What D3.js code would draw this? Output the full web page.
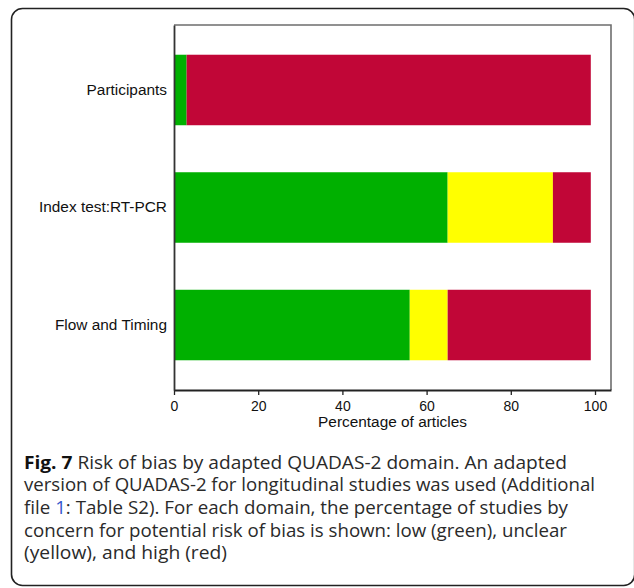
<!DOCTYPE html>
<html>
<head>
<meta charset="utf-8">
<script src="https://cdn.jsdelivr.net/npm/d3@7"></script>
<style>
  html, body { margin: 0; padding: 0; background: #fff; }
  svg { display: block; }
  .arial { font-family: "Liberation Sans", Arial, sans-serif; }
</style>
</head>
<body>
<svg id="chart" width="634" height="588"></svg>
<script>
// ---- data ----
const categories = ["Participants", "Index test:RT-PCR", "Flow and Timing"];
const lowValues     = [3, 65, 56];   // green
const unclearValues = [0, 25, 9];    // yellow
const highValues    = [96, 9, 34];   // red
const seriesNames   = ["low", "unclear", "high"];
const seriesColors  = ["#00B000", "#FFFF00", "#C10637"];
const tickValues    = [0, 20, 40, 60, 80, 100];
const xTitle = "Percentage of articles";
const captionLines = [
  [{t: "Fig. 7", b: true}, {t: " Risk of bias by adapted QUADAS-2 domain. An adapted"}],
  [{t: "version of QUADAS-2 for longitudinal studies was used (Additional"}],
  [{t: "file "}, {t: "1", link: true}, {t: ": Table S2). For each domain, the percentage of studies by"}],
  [{t: "concern for potential risk of bias is shown: low (green), unclear"}],
  [{t: "(yellow), and high (red)"}]
];
const captionWidths = [543, 571, 544, 543, 203];

// ---- drawing ----
const svg = d3.select("#chart");

// outer rounded frame
svg.append("rect")
  .attr("x", 11.5).attr("y", 8.5)
  .attr("width", 623.2).attr("height", 577)
  .attr("rx", 11).attr("ry", 11)
  .attr("fill", "none").attr("stroke", "#222").attr("stroke-width", 1.6);

const plot = {left: 174, right: 611, top: 25, bottom: 390};

const x = d3.scaleLinear().domain([0, 103.8]).range([plot.left, plot.right]);
const y = d3.scaleBand().domain(categories)
  .range([plot.top, plot.bottom]).paddingInner(0.4).paddingOuter(0.253);

const rows = categories.map((c, i) => ({cat: c, low: lowValues[i], unclear: unclearValues[i], high: highValues[i]}));
const stacked = d3.stack().keys(seriesNames)(rows);
const color = d3.scaleOrdinal().domain(seriesNames).range(seriesColors);

// plot frame (top & right gray)
svg.append("path")
  .attr("d", `M${plot.left},${plot.top}H${plot.right}V${plot.bottom}`)
  .attr("fill", "none").attr("stroke", "#6e6e6e").attr("stroke-width", 1.6);

svg.append("g").selectAll("g").data(stacked).join("g")
  .attr("fill", d => color(d.key))
  .selectAll("rect").data(d => d).join("rect")
  .attr("x", d => x(d[0]))
  .attr("width", d => Math.max(0, x(d[1]) - x(d[0])))
  .attr("y", d => y(d.data.cat))
  .attr("height", y.bandwidth());

// bottom axis
const xAxis = svg.append("g")
  .attr("transform", `translate(0,${plot.bottom})`)
  .call(d3.axisBottom(x).tickValues(tickValues).tickSize(5).tickSizeOuter(0));
xAxis.attr("font-family", null).attr("font-size", null);
xAxis.select(".domain").attr("stroke", "#222").attr("stroke-width", 1.8);
xAxis.selectAll(".tick line").attr("stroke", "#222").attr("stroke-width", 1.3);
xAxis.selectAll(".tick text")
  .attr("y", 20.5).attr("dy", null)
  .attr("class", "arial")
  .style("font-size", "14px").attr("fill", "#111");

// left axis
const yAxis = svg.append("g")
  .attr("transform", `translate(${plot.left},0)`)
  .call(d3.axisLeft(y).tickSize(0).tickPadding(7));
yAxis.attr("font-family", null).attr("font-size", null);
yAxis.select(".domain").attr("stroke", "#333").attr("stroke-width", 1.8);
yAxis.selectAll(".tick text")
  .attr("class", "arial")
  .style("font-size", "15.4px").attr("fill", "#111");

// x title
svg.append("text")
  .attr("class", "arial")
  .attr("x", (plot.left + plot.right) / 2).attr("y", 427)
  .attr("text-anchor", "middle")
  .style("font-size", "15.4px").attr("fill", "#111")
  .text(xTitle);

// caption
const cap = svg.append("g")
  .style("font-family", "'Open Sans', 'Noto Sans', sans-serif")
  .style("font-size", "17.5px").attr("fill", "#2a2a2a");
captionLines.forEach((line, i) => {
  const t = cap.append("text")
    .attr("x", 24).attr("y", 468.5 + i * 22.7)
    .attr("textLength", captionWidths[i])
    .attr("lengthAdjust", "spacingAndGlyphs");
  line.forEach(seg => {
    const s = t.append("tspan").text(seg.t);
    if (seg.b) s.attr("font-weight", "bold").attr("fill", "#111");
    if (seg.link) s.attr("fill", "#3355cc");
  });
});
</script>
</body>
</html>
